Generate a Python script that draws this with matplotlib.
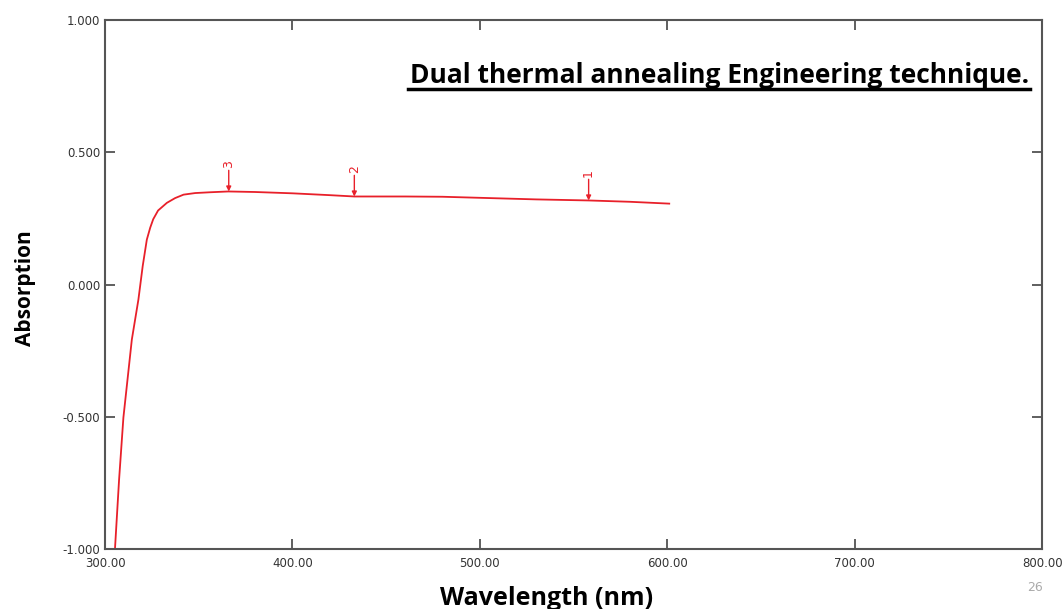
import numpy as np
import matplotlib.pyplot as plt

# absorption spectrum
wavelength = [305.3, 307.5, 309.8, 314.3, 317.8, 320.1, 322.3, 324.1, 325.7, 328.3,
              333.0, 337.4, 341.9, 348.1, 356.1, 365.8, 380.0, 400.0, 420.0, 433.0,
              460.0, 480.0, 500.0, 530.0, 558.0, 580.0, 601.0]
absorption = [-1.00, -0.737, -0.503, -0.208, -0.057, 0.07, 0.17, 0.215, 0.247, 0.280,
              0.309, 0.327, 0.340, 0.346, 0.349, 0.352, 0.350, 0.345, 0.338, 0.333,
              0.333, 0.332, 0.328, 0.322, 0.318, 0.313, 0.306]

peak_wl = [558.0, 433.0, 366.0]
peak_labels = ['1', '2', '3']

xticks = [300, 400, 500, 600, 700, 800]
yticks = [-1.0, -0.5, 0.0, 0.5, 1.0]

fig = plt.figure(figsize=(10.62, 6.09), dpi=100)
ax = fig.add_axes([0.0989, 0.0985, 0.8825, 0.8685])

ax.plot(wavelength, absorption, color='#e8202a', lw=1.3)

for wl, lab in zip(peak_wl, peak_labels):
    yv = np.interp(wl, wavelength, absorption)
    ax.annotate('', xy=(wl, yv), xytext=(wl, yv + 0.08),
                arrowprops=dict(arrowstyle='-|>', color='#e8202a', lw=1.0,
                                mutation_scale=7, shrinkA=0, shrinkB=0))
    ax.text(wl, yv + 0.09, lab, rotation=90, color='#e8202a', fontsize=9,
            ha='center', va='bottom')

ax.set_xlim(300, 800)
ax.set_ylim(-1, 1)
ax.set_xticks(xticks)
ax.set_yticks(yticks)
ax.set_xticklabels(['%.2f' % v for v in xticks])
ax.set_yticklabels(['%.3f' % v for v in yticks])
ax.tick_params(direction='in', length=7, width=1.2, color='#444444',
               labelsize=8.5, labelcolor='#333333', top=True, right=True,
               labeltop=False, labelright=False)
ax.tick_params(axis='x', pad=6)
for s in ax.spines.values():
    s.set_color('#555555')
    s.set_linewidth(1.5)

fig.text(0.515, 0.018, 'Wavelength (nm)', fontsize=18, fontweight='bold',
         family='Open Sans', ha='center', va='center')
fig.text(0.024, 0.527, 'Absorption', fontsize=15, fontweight='bold',
         family='Open Sans', ha='center', va='center', rotation=90)

fig.text(0.678, 0.864, 'Dual thermal annealing Engineering technique.',
         ha='center', va='baseline', fontsize=19, fontweight='bold',
         family='Open Sans')
fig.add_artist(plt.Line2D([0.384, 0.970], [0.854, 0.854], color='black', lw=2.5))

fig.text(0.975, 0.03, '26', fontsize=9, color='#aaaaaa', ha='center')

fig.savefig('out.png', dpi=100)
